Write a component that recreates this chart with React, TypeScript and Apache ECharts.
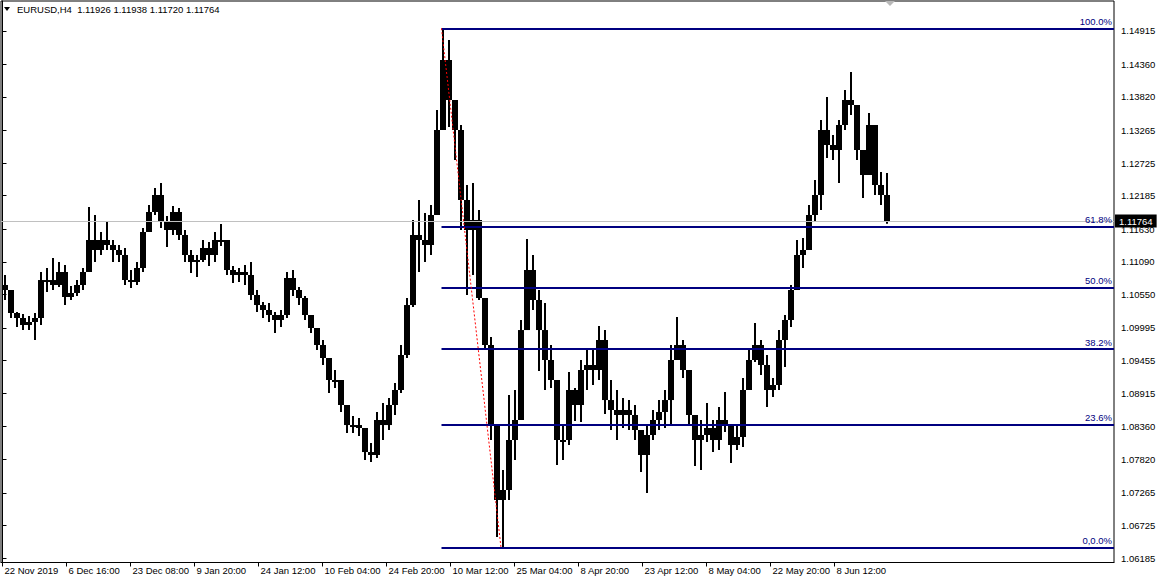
import React, { useEffect, useRef } from "react";
import * as echarts from "echarts";

const FONT = '"Liberation Sans", Arial, sans-serif';
const FS = 9.5;

// one slot = 6 H4 bars (one trading day at 1 px per bar)
const BARS_PER_SLOT = 6;
const firstOpen = 1.10706;

const slotHigh = [
  1.10871, 1.10623, 1.10259, 1.10225, 1.10192, 1.10242, 1.10921, 1.10987, 1.11153, 1.11086,
  1.11037, 1.10689, 1.10788, 1.10987, 1.11997, 1.11865, 1.11583, 1.11749, 1.11451, 1.11368,
  1.11318, 1.10954, 1.11086, 1.11649, 1.12030, 1.12312, 1.12395, 1.11848, 1.12014, 1.11981,
  1.11616, 1.11285, 1.11202, 1.11451, 1.11418, 1.11583, 1.11716, 1.11451, 1.11020, 1.10987,
  1.11037, 1.11086, 1.10623, 1.10424, 1.10408, 1.10259, 1.10292, 1.10921, 1.10954, 1.10672,
  1.10523, 1.10159, 1.09878, 1.09795, 1.09431, 1.09298, 1.09083, 1.08636, 1.08536, 1.08503,
  1.08139, 1.08089, 1.08603, 1.08752, 1.08835, 1.09083, 1.09712, 1.10490, 1.11782, 1.12113,
  1.11898, 1.12030, 1.13603, 1.14956, 1.14762, 1.13769, 1.13355, 1.12361, 1.12395, 1.11947,
  1.10457, 1.09845, 1.08338, 1.07642, 1.08884, 1.08967, 1.10126, 1.11467, 1.11202, 1.10623,
  1.10408, 1.09712, 1.09066, 1.08387, 1.09265, 1.09000, 1.09464, 1.09629, 1.09646, 1.10027,
  1.09960, 1.09133, 1.08967, 1.08835, 1.08801, 1.08719, 1.08305, 1.08387, 1.08636, 1.08801,
  1.08967, 1.09712, 1.10176, 1.09795, 1.09265, 1.08503, 1.08470, 1.08752, 1.08470, 1.08685,
  1.08934, 1.08338, 1.08387, 1.09166, 1.09662, 1.10076, 1.09795, 1.09547, 1.09166, 1.09960,
  1.10209, 1.10706, 1.11451, 1.11484, 1.12030, 1.12444, 1.13438, 1.13818, 1.13189, 1.13438,
  1.13934, 1.14232, 1.13686, 1.12775, 1.13554, 1.13272, 1.12577, 1.12560,
];

const slotLow = [
  1.10457, 1.10159, 1.10010, 1.09960, 1.09960, 1.09795, 1.10043, 1.10590, 1.10623, 1.10672,
  1.10374, 1.10457, 1.10523, 1.10623, 1.11037, 1.11086, 1.11202, 1.11285, 1.11086, 1.11086,
  1.10706, 1.10656, 1.10706, 1.10921, 1.11583, 1.11865, 1.11649, 1.11335, 1.11533, 1.11451,
  1.11086, 1.10904, 1.10838, 1.11086, 1.11020, 1.11086, 1.11351, 1.10871, 1.10739, 1.10755,
  1.10706, 1.10457, 1.10259, 1.10159, 1.10093, 1.09911, 1.10010, 1.10159, 1.10523, 1.10374,
  1.10126, 1.09911, 1.09629, 1.09381, 1.08917, 1.09000, 1.08603, 1.08255, 1.08255, 1.08205,
  1.07808, 1.07775, 1.07841, 1.08139, 1.08305, 1.08553, 1.08917, 1.09497, 1.10341, 1.10921,
  1.11086, 1.11202, 1.12113, 1.13603, 1.13322, 1.12775, 1.11616, 1.10540, 1.10871, 1.10457,
  1.09629, 1.08139, 1.06533, 1.06359, 1.07146, 1.07808, 1.08884, 1.09960, 1.10292, 1.09282,
  1.08967, 1.09000, 1.07725, 1.07808, 1.08056, 1.08454, 1.08437, 1.08967, 1.09050, 1.09133,
  1.08570, 1.08305, 1.08139, 1.08338, 1.08305, 1.08139, 1.07609, 1.07262, 1.08139, 1.08305,
  1.08338, 1.08387, 1.09464, 1.09166, 1.08387, 1.07709, 1.07642, 1.08106, 1.07940, 1.07974,
  1.08272, 1.07758, 1.07974, 1.08023, 1.09050, 1.09431, 1.09215, 1.08685, 1.08851, 1.08967,
  1.09348, 1.10010, 1.10706, 1.10987, 1.11285, 1.11749, 1.11947, 1.12808, 1.12775, 1.12395,
  1.13272, 1.13520, 1.12775, 1.12146, 1.12527, 1.12196, 1.12030, 1.11720,
];

const slotClose = [
  1.10623, 1.10242, 1.10159, 1.10043, 1.10093, 1.10159, 1.10788, 1.10788, 1.10706, 1.10921,
  1.10507, 1.10573, 1.10706, 1.10921, 1.11451, 1.11285, 1.11451, 1.11368, 1.11285, 1.11202,
  1.10788, 1.10755, 1.10987, 1.11583, 1.11914, 1.12196, 1.11749, 1.11616, 1.11914, 1.11533,
  1.11202, 1.11086, 1.11120, 1.11318, 1.11202, 1.11451, 1.11451, 1.10954, 1.10871, 1.10921,
  1.10871, 1.10540, 1.10374, 1.10292, 1.10209, 1.10126, 1.10209, 1.10822, 1.10623, 1.10490,
  1.10209, 1.09994, 1.09712, 1.09497, 1.09133, 1.09133, 1.08719, 1.08387, 1.08387, 1.08338,
  1.07940, 1.07891, 1.08470, 1.08387, 1.08719, 1.08967, 1.09547, 1.10374, 1.11533, 1.11451,
  1.11368, 1.11865, 1.13272, 1.14431, 1.13769, 1.13272, 1.12113, 1.11616, 1.11782, 1.10490,
  1.09712, 1.08387, 1.07146, 1.07311, 1.08139, 1.08470, 1.09960, 1.10954, 1.10457, 1.09960,
  1.09464, 1.09133, 1.08139, 1.08139, 1.08967, 1.08719, 1.09298, 1.09381, 1.09298, 1.09795,
  1.08801, 1.08636, 1.08553, 1.08636, 1.08553, 1.08305, 1.07891, 1.08222, 1.08470, 1.08603,
  1.08801, 1.09464, 1.09712, 1.09298, 1.08553, 1.08139, 1.08222, 1.08338, 1.08139, 1.08470,
  1.08387, 1.08056, 1.08189, 1.08967, 1.09464, 1.09712, 1.09381, 1.08967, 1.09050, 1.09795,
  1.10126, 1.10623, 1.11202, 1.11285, 1.11865, 1.12196, 1.13272, 1.13024, 1.12941, 1.13355,
  1.13769, 1.13686, 1.12941, 1.12527, 1.13355, 1.12361, 1.12196, 1.11764,
];

// last H4 bar: open, high, low, close
const lastBar = [1.11926, 1.11938, 1.1172, 1.11764];

const xLabelBars = [0, 64, 128, 192, 256, 320, 384, 448, 512, 576, 640, 704, 768, 832];
const xLabels = [
  "22 Nov 2019", "6 Dec 16:00", "23 Dec 08:00", "9 Jan 20:00", "24 Jan 12:00",
  "10 Feb 04:00", "24 Feb 20:00", "10 Mar 12:00", "25 Mar 04:00", "8 Apr 20:00",
  "23 Apr 12:00", "8 May 04:00", "22 May 20:00", "8 Jun 12:00",
];

const yTicks = [
  1.14915, 1.1436, 1.1382, 1.13265, 1.12725, 1.12185, 1.1163, 1.1109, 1.1055,
  1.09995, 1.09455, 1.08915, 1.0836, 1.0782, 1.07265, 1.06725, 1.06185,
];

// Fibonacci retracement
const fibHighBar = 439;
const fibLowBar = 498.5;
const fibHigh = 1.14956;
const fibLow = 1.06359;
const fibLevels = [0, 0.236, 0.382, 0.5, 0.618, 1];
const fibLabels = ["0,0.0%", "23.6%", "38.2%", "50.0%", "61.8%", "100.0%"];

const X_MIN = -1.5;
const X_MAX = 1111.5;
const Y_MIN = 1.06111;
const Y_MAX = 1.15408;

export default function App() {
  const ref = useRef<HTMLDivElement>(null);

  useEffect(() => {
    if (!ref.current) return;
    const chart = echarts.init(ref.current, undefined, { renderer: "svg" });

    const candles = slotClose.map((c, k) => {
      const o = k === 0 ? firstOpen : slotClose[k - 1];
      return [k * BARS_PER_SLOT + 2.5, o, c, slotLow[k], slotHigh[k]];
    });

    const xLabelMap = new Map<number, string>();
    xLabelBars.forEach((b, i) => xLabelMap.set(b, xLabels[i]));

    const fibLines = fibLevels.map((lv, i) => {
      const price = fibLow + (fibHigh - fibLow) * lv;
      return [
        { coord: [fibHighBar, price], label: { formatter: fibLabels[i] } },
        { coord: [X_MAX, price] },
      ];
    });

    const title =
      "EURUSD,H4\u00a0 " + lastBar.map((v) => v.toFixed(5)).join(" ");

    const option: any = {
      animation: false,
      backgroundColor: "#ffffff",
      textStyle: { fontFamily: FONT },
      grid: {
        left: 1,
        top: 1,
        right: 47,
        bottom: 17.5,
        show: true,
        borderColor: "#000",
        borderWidth: 1,
        backgroundColor: "transparent",
      },
      xAxis: {
        type: "value",
        min: X_MIN,
        max: X_MAX,
        axisLine: { show: true, lineStyle: { color: "#000", width: 1 } },
        axisTick: {
          show: true,
          customValues: xLabelBars,
          length: 4,
          lineStyle: { color: "#000" },
        },
        axisLabel: {
          customValues: xLabelBars,
          formatter: (v: number) => xLabelMap.get(Math.round(v)) ?? "",
          align: "left",
          margin: 3,
          padding: [0, 0, 0, 2],
          fontSize: FS,
          fontFamily: FONT,
          color: "#000",
        },
        splitLine: { show: false },
      },
      yAxis: {
        type: "value",
        position: "right",
        min: Y_MIN,
        max: Y_MAX,
        axisLine: { show: true, lineStyle: { color: "#000", width: 1 } },
        axisTick: {
          show: true,
          customValues: yTicks,
          length: 4,
          lineStyle: { color: "#000" },
        },
        axisLabel: {
          customValues: yTicks,
          formatter: (v: number) => v.toFixed(5),
          margin: 7,
          padding: [5, 0, 0, 0],
          fontSize: FS,
          fontFamily: FONT,
          color: "#000",
        },
        splitLine: { show: false },
      },
      graphic: [
        {
          type: "polygon",
          shape: { points: [[4, 7], [10, 7], [7, 11]] },
          style: { fill: "#000" },
        },
        {
          type: "text",
          x: 17,
          y: 9.5,
          style: {
            text: title,
            fill: "#000",
            fontSize: FS,
            fontFamily: FONT,
            verticalAlign: "middle",
          },
        },
        {
          type: "polygon",
          shape: { points: [[885, 1], [895, 1], [890, 6]] },
          style: { fill: "#b8b8b8" },
        },
      ],
      series: [
        {
          type: "line",
          data: [],
          z: 1,
          silent: true,
          markLine: {
            silent: true,
            symbol: ["none", "none"],
            lineStyle: { color: "#c0c0c0", width: 1, type: "solid" },
            label: {
              show: true,
              position: "end",
              distance: 1,
              formatter: () => lastBar[3].toFixed(5),
              backgroundColor: "#000",
              color: "#fff",
              padding: [1, 4, 0, 4],
              lineHeight: 12,
              fontSize: FS,
              fontFamily: FONT,
            },
            emphasis: { disabled: true },
            data: [
              [
                { coord: [X_MIN, lastBar[3]] },
                { coord: [X_MAX, lastBar[3]] },
              ],
            ],
          },
        },
        {
          type: "custom",
          z: 3,
          clip: true,
          silent: true,
          encode: { x: 0, y: [1, 2, 3, 4] },
          data: candles,
          renderItem: (params: any, api: any) => {
            const x = api.value(0);
            const o = api.value(1);
            const c = api.value(2);
            const l = api.value(3);
            const h = api.value(4);
            const top = Math.max(o, c, h);
            const bot = Math.min(o, c, l);
            const pO = api.coord([x, o]);
            const pC = api.coord([x, c]);
            const pT = api.coord([x, top]);
            const pB = api.coord([x, bot]);
            const w = api.size([BARS_PER_SLOT, 0])[0];
            const bodyTop = Math.min(pO[1], pC[1]);
            const bodyH = Math.max(2, Math.abs(pO[1] - pC[1]));
            return {
              type: "group",
              children: [
                {
                  type: "rect",
                  shape: { x: pT[0] - 1, y: pT[1], width: 2, height: pB[1] - pT[1] },
                  style: { fill: "#000" },
                },
                {
                  type: "rect",
                  shape: { x: pO[0] - w / 2, y: bodyTop, width: w, height: bodyH },
                  style: { fill: "#000" },
                },
              ],
            };
          },
        },
        {
          type: "line",
          data: [],
          z: 5,
          silent: true,
          markLine: {
            silent: true,
            symbol: ["none", "none"],
            emphasis: { disabled: true },
            lineStyle: { color: "#000080", width: 2, type: "solid" },
            label: {
              show: true,
              position: "insideEndTop",
              distance: 2,
              color: "#000080",
              fontSize: FS,
              fontFamily: FONT,
            },
            data: [
              ...fibLines,
              [
                {
                  coord: [fibHighBar, fibHigh],
                  lineStyle: { color: "#ff0000", width: 1, type: [2, 2] },
                  label: { show: false },
                },
                { coord: [fibLowBar, fibLow] },
              ],
            ],
          },
        },
      ],
    };

    chart.setOption(option);
    return () => chart.dispose();
  }, []);

  return (
    <div
      ref={ref}
      style={{
        position: "fixed",
        left: 0,
        top: 0,
        width: 1161,
        height: 580,
        background: "#fff",
      }}
    />
  );
}
